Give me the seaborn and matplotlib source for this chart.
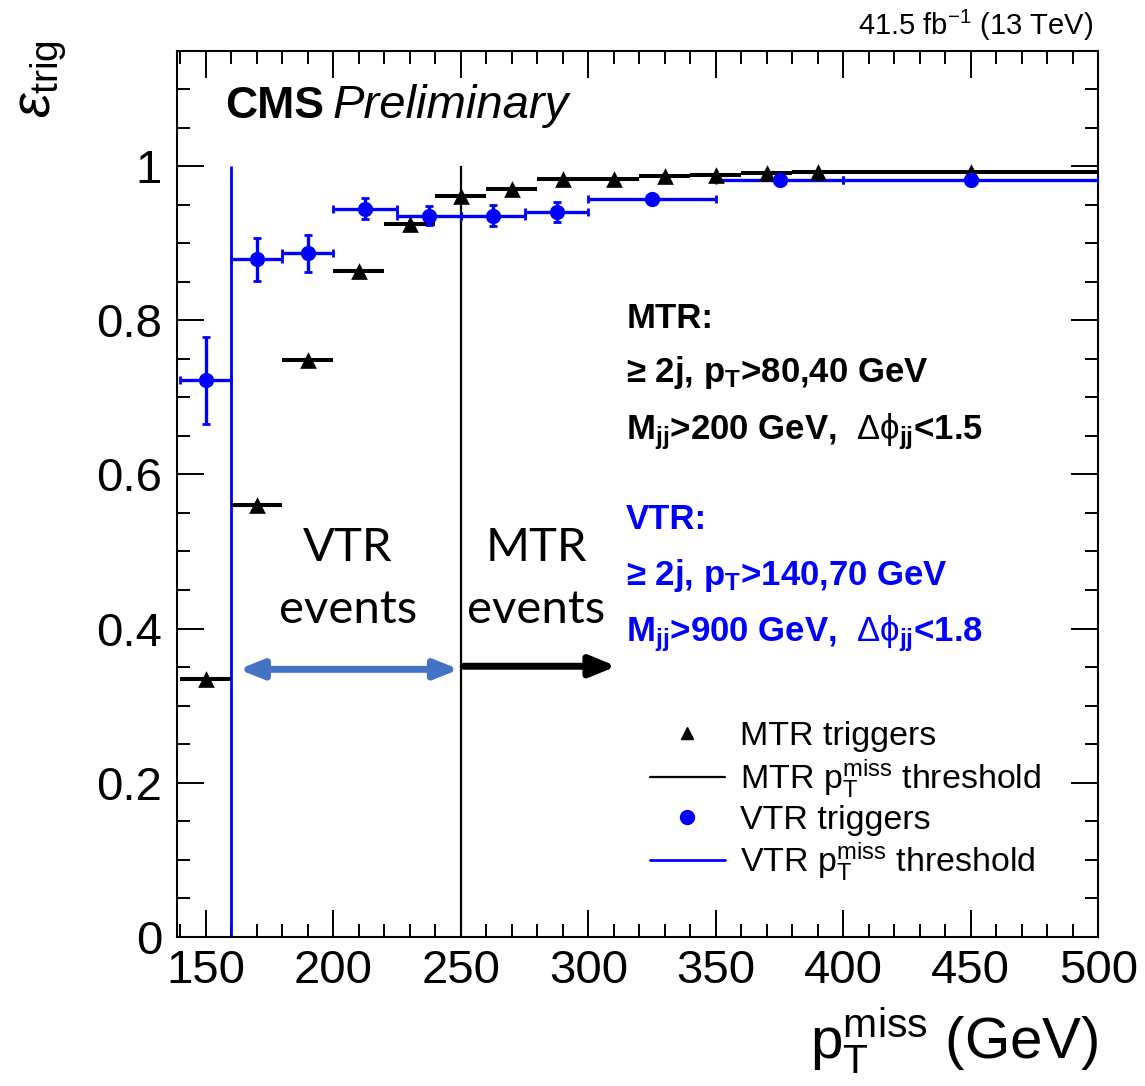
import matplotlib
matplotlib.use("Agg")
import matplotlib.pyplot as plt
import seaborn as sns
from matplotlib.lines import Line2D
from matplotlib.ticker import MultipleLocator

# MTR trigger efficiency (black triangles), bins in GeV
mtr_lo = [140, 160, 180, 200, 220, 240, 260, 280, 300, 320, 340, 360, 380, 400]
mtr_hi = [160, 180, 200, 220, 240, 260, 280, 300, 320, 340, 360, 380, 400, 500]
mtr_eff = [0.334, 0.560, 0.749, 0.864, 0.925, 0.961, 0.971, 0.984,
           0.983, 0.988, 0.989, 0.991, 0.992, 0.993]

# VTR trigger efficiency (blue circles)
vtr_lo = [140, 160, 180, 200, 225, 250, 275, 300, 350, 400]
vtr_hi = [160, 180, 200, 225, 250, 275, 300, 350, 400, 500]
vtr_eff = [0.722, 0.879, 0.887, 0.945, 0.936, 0.936, 0.941, 0.958, 0.982, 0.982]
vtr_err = [0.057, 0.028, 0.024, 0.014, 0.012, 0.014, 0.013, 0.005, 0.004, 0.003]

mtr_thr = 250
vtr_thr = 160

xtick_vals = [150, 200, 250, 300, 350, 400, 450, 500]
xtick_labels = ["150", "200", "250", "300", "350", "400", "450", "500"]
ytick_vals = [0, 0.2, 0.4, 0.6, 0.8, 1.0]
ytick_labels = ["0", "0.2", "0.4", "0.6", "0.8", "1"]

BLUE = "#0000ff"
ARROW_BLUE = "#4472c4"

sns.set_theme(style="ticks")
plt.rcParams["font.family"] = ["Liberation Sans", "DejaVu Sans"]
plt.rcParams["mathtext.fontset"] = "custom"
plt.rcParams["mathtext.rm"] = "Liberation Sans"
plt.rcParams["mathtext.it"] = "Liberation Sans:italic"
plt.rcParams["mathtext.bf"] = "Liberation Sans:bold"
plt.rcParams["mathtext.sf"] = "Liberation Sans"
for key in ["text.color", "axes.labelcolor", "xtick.color", "ytick.color",
            "axes.edgecolor"]:
    plt.rcParams[key] = "black"

fig = plt.figure(figsize=(11.45, 10.86), dpi=100)
ax = fig.add_axes([0.1543, 0.1375, 0.8049, 0.8158])

# thresholds
ax.vlines(vtr_thr, 0, 1, color=BLUE, lw=2.0, zorder=2)
ax.vlines(mtr_thr, 0, 1, color="black", lw=1.6, zorder=2)

mtr_x = [(a + b) / 2 for a, b in zip(mtr_lo, mtr_hi)]
vtr_x = [(a + b) / 2 for a, b in zip(vtr_lo, vtr_hi)]

ax.errorbar(mtr_x, mtr_eff,
            xerr=[[x - a for x, a in zip(mtr_x, mtr_lo)],
                  [b - x for x, b in zip(mtr_x, mtr_hi)]],
            fmt="none", ecolor="black", elinewidth=2.9, capsize=0, zorder=3)
ax.errorbar(vtr_x, vtr_eff,
            xerr=[[x - a for x, a in zip(vtr_x, vtr_lo)],
                  [b - x for x, b in zip(vtr_x, vtr_hi)]],
            yerr=vtr_err, fmt="none", ecolor=BLUE, elinewidth=2.4,
            capsize=2.8, capthick=2.0, zorder=4)

sns.scatterplot(x=mtr_x, y=mtr_eff, marker="^", s=12 ** 2, color="black",
                linewidth=0, ax=ax, zorder=5)
sns.scatterplot(x=vtr_x, y=vtr_eff, marker="o", s=11 ** 2, color=BLUE,
                linewidth=0, ax=ax, zorder=6)

ax.set_xlim(138.5, 500)
ax.set_ylim(0, 1.15)
ax.set_xticks(xtick_vals)
ax.set_xticklabels(xtick_labels)
ax.set_yticks(ytick_vals)
ax.set_yticklabels(ytick_labels)
ax.xaxis.set_minor_locator(MultipleLocator(10))
ax.yaxis.set_minor_locator(MultipleLocator(0.05))
ax.tick_params(which="both", direction="in", top=True, right=True,
               width=1.4, color="black", labelcolor="black")
ax.tick_params(which="major", length=19.5)
ax.tick_params(which="minor", length=9.5)
ax.tick_params(axis="y", labelsize=34, pad=10.5)
ax.tick_params(axis="x", labelsize=34, pad=9)
for sp in ax.spines.values():
    sp.set_linewidth(1.5)
    sp.set_color("black")
ax.grid(False)

ax.set_xlabel(r"$\mathrm{p}_{\mathrm{T}}^{\mathrm{miss}}$ (GeV)", fontsize=42,
              loc="right", color="black")
ax.xaxis.label.set_va("baseline")
ax.xaxis.set_label_coords(1.0, -0.137)
fig.text(0.0376, 0.963, r"$\varepsilon_{\mathrm{trig}}$", rotation=90,
         ha="center", va="top", fontsize=40, color="black")

ax.text(0.0524, 0.9235, "CMS", transform=ax.transAxes, fontsize=32,
        fontweight="bold", va="baseline")
ax.text(0.1696, 0.9235, "Preliminary", transform=ax.transAxes, fontsize=34,
        fontstyle="italic", va="baseline")
ax.text(0.9943, 1.0177, r"41.5 fb$^{-1}$ (13 TeV)", transform=ax.transAxes,
        fontsize=21, ha="right", va="baseline")

# trigger selections
sel_x = 314.8
ax.text(sel_x, 0.7905, "MTR:", fontsize=25, fontweight="bold", va="baseline")
ax.text(sel_x, 0.720, r"≥ 2j, p$_{\mathbf{T}}$>80,40 GeV", fontsize=25,
        fontweight="bold", va="baseline")
ax.text(sel_x, 0.646, r"M$_{\mathbf{jj}}$>200 GeV,  $\Delta\mathrm{\phi}_{\mathbf{jj}}$<1.5",
        fontsize=25, fontweight="bold", va="baseline")
ax.text(sel_x, 0.5295, "VTR:", fontsize=25, fontweight="bold", va="baseline",
        color=BLUE)
ax.text(sel_x, 0.456, r"≥ 2j, p$_{\mathbf{T}}$>140,70 GeV", fontsize=25,
        fontweight="bold", va="baseline", color=BLUE)
ax.text(sel_x, 0.384, r"M$_{\mathbf{jj}}$>900 GeV,  $\Delta\mathrm{\phi}_{\mathbf{jj}}$<1.8",
        fontsize=25, fontweight="bold", va="baseline", color=BLUE)

# region labels
for xc, word in [(205.7, "VTR"), (279.6, "MTR")]:
    ax.text(xc, 0.487, word, fontsize=34, family="Lato", ha="center", va="baseline")
    ax.text(xc, 0.407, "events", fontsize=34, family="Lato", ha="center", va="baseline")

ax.annotate("", xy=(249.3, 0.347), xytext=(162.8, 0.347),
            arrowprops=dict(arrowstyle="<|-|>,head_length=1.0,head_width=0.4",
                            color=ARROW_BLUE, lw=5, shrinkA=0, shrinkB=0,
                            mutation_scale=14))
ax.annotate("", xy=(311.0, 0.351), xytext=(250.9, 0.351),
            arrowprops=dict(arrowstyle="-|>,head_length=1.1,head_width=0.45",
                            color="black", lw=5, shrinkA=0, shrinkB=0,
                            mutation_scale=14))

handles = [
    Line2D([], [], marker="^", ls="none", color="black", ms=9),
    Line2D([], [], color="black", lw=1.6),
    Line2D([], [], marker="o", ls="none", color=BLUE, ms=10),
    Line2D([], [], color=BLUE, lw=2),
]
labels = [
    "MTR triggers",
    r"MTR $\mathrm{p}_{\mathrm{T}}^{\mathrm{miss}}$ threshold",
    "VTR triggers",
    r"VTR $\mathrm{p}_{\mathrm{T}}^{\mathrm{miss}}$ threshold",
]
ax.legend(handles, labels, loc="upper left", bbox_to_anchor=(0.5136, 0.243),
          frameon=False, fontsize=24.5, handlelength=2.2, handletextpad=0.45,
          labelspacing=0.14, borderpad=0, borderaxespad=0)

fig.savefig("out.png", dpi=100)
